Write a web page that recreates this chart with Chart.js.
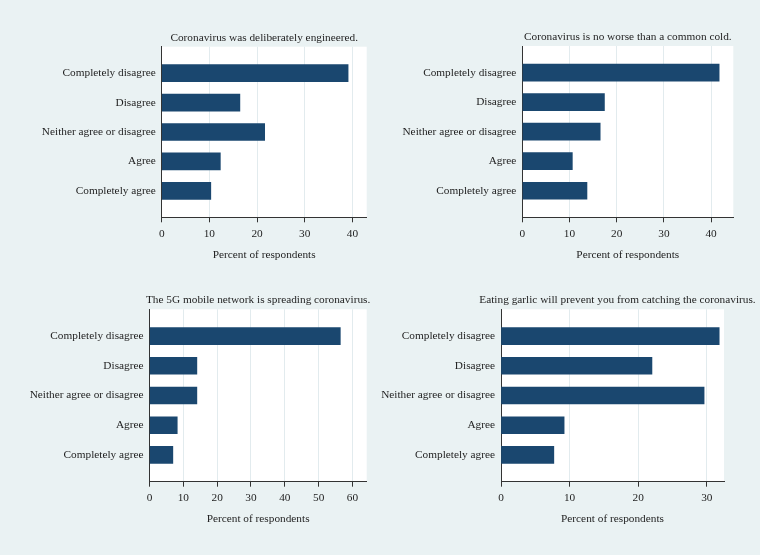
<!DOCTYPE html>
<html>
<head>
<meta charset="utf-8">
<script src="https://cdn.jsdelivr.net/npm/chart.js@4/dist/chart.umd.min.js"></script>
<style>
  html, body { margin: 0; padding: 0; background: #ffffff; }
  #page { position: relative; width: 760px; height: 555px; background: #eaf2f3; }
  canvas { position: absolute; }
</style>
</head>
<body>
<div id="page">
  <canvas id="c1" width="380" height="278" style="left:0px;top:0px"></canvas>
  <canvas id="c2" width="390" height="278" style="left:370px;top:0px"></canvas>
  <canvas id="c3" width="380" height="277" style="left:0px;top:278px"></canvas>
  <canvas id="c4" width="390" height="277" style="left:370px;top:278px"></canvas>
</div>
<script>
// survey answers, top to bottom
const categories = ['Completely disagree', 'Disagree', 'Neither agree or disagree', 'Agree', 'Completely agree'];

// percent of respondents per statement
const engineered = [39.1, 16.4, 21.6, 12.3, 10.3];
const commonCold = [41.7, 17.4, 16.5, 10.6, 13.7];
const fiveG      = [56.4, 14.0, 14.0, 8.2, 6.9];
const garlic     = [31.8, 22.0, 29.6, 9.2, 7.7];

const titles = [
    'Coronavirus was deliberately engineered.',
    'Coronavirus is no worse than a common cold.',
    'The 5G mobile network is spreading coronavirus.',
    'Eating garlic will prevent you from catching the coronavirus.'
];
const xMax = [43, 44.7, 64.2, 32.5];
const xStep = 10;
const xTitle = 'Percent of respondents';

const FONT = '"Liberation Serif", "Times New Roman", serif';
const FONT_SIZE = 11.3;
const TEXT = '#1e1e1e';
const BAR = '#1a476f';

// layout of each panel inside its canvas
const panels = [
    { id: 'c1', values: engineered, axisW: 161.7, top: 46.7, right: 13.3, axisH: 60.7, shift: 0 },
    { id: 'c2', values: commonCold, axisW: 152.3, top: 46.0, right: 26.7, axisH: 60.7, shift: 0 },
    { id: 'c3', values: fiveG,      axisW: 149.5, top: 31.3, right: 13.3, axisH: 73.3, shift: 0 },
    { id: 'c4', values: garlic,     axisW: 131.0, top: 31.3, right: 36.0, axisH: 73.3, shift: 5 }
];

// white plot region plus the panel title and the x axis title
const panelText = {
    id: 'panelText',
    beforeDraw(chart) {
        const a = chart.chartArea;
        const ctx = chart.ctx;
        ctx.save();
        ctx.fillStyle = '#ffffff';
        ctx.fillRect(a.left, a.top, a.right - a.left, a.bottom - a.top);
        ctx.restore();
    },
    afterDraw(chart, args, opts) {
        const a = chart.chartArea;
        const ctx = chart.ctx;
        const mid = (a.left + a.right) / 2;
        ctx.save();
        ctx.font = FONT_SIZE + 'px ' + FONT;
        ctx.fillStyle = TEXT;
        ctx.textAlign = 'center';
        ctx.textBaseline = 'middle';
        ctx.fillText(opts.title, mid + opts.shift, a.top - 9);
        ctx.fillText(xTitle, mid, a.bottom + 37.5);
        ctx.restore();
    }
};

panels.forEach((p, i) => {
    new Chart(document.getElementById(p.id), {
        type: 'bar',
        data: {
            datasets: [{
                data: p.values.map((v, k) => ({ x: v, y: k })),
                backgroundColor: BAR,
                borderWidth: 0,
                barThickness: 17
            }]
        },
        plugins: [panelText],
        options: {
            indexAxis: 'y',
            responsive: false,
            animation: false,
            layout: { padding: { top: p.top, right: p.right, bottom: 0, left: 0 } },
            plugins: {
                legend: { display: false },
                tooltip: { enabled: false },
                title: { display: false },
                panelText: { title: titles[i], shift: p.shift }
            },
            scales: {
                x: {
                    type: 'linear',
                    min: 0,
                    max: xMax[i],
                    grid: { color: '#e2ebee', tickColor: '#333333', tickLength: 5, lineWidth: 1 },
                    border: { display: true, color: '#333333', width: 1 },
                    ticks: {
                        stepSize: xStep,
                        includeBounds: false,
                        padding: 5,
                        color: TEXT,
                        font: { family: FONT, size: FONT_SIZE }
                    },
                    afterFit(scale) { scale.height = p.axisH; }
                },
                y: {
                    type: 'linear',
                    reverse: true,
                    offset: false,
                    min: -0.9,
                    max: 4.9,
                    grid: { display: false, drawTicks: false },
                    border: { display: true, color: '#333333', width: 1 },
                    afterBuildTicks(scale) {
                        scale.ticks = categories.map((c, k) => ({ value: k }));
                    },
                    ticks: {
                        padding: 6,
                        color: TEXT,
                        font: { family: FONT, size: FONT_SIZE },
                        callback: (v) => categories[v]
                    },
                    afterFit(scale) { scale.width = p.axisW; }
                }
            }
        }
    });
});
</script>
</body>
</html>
